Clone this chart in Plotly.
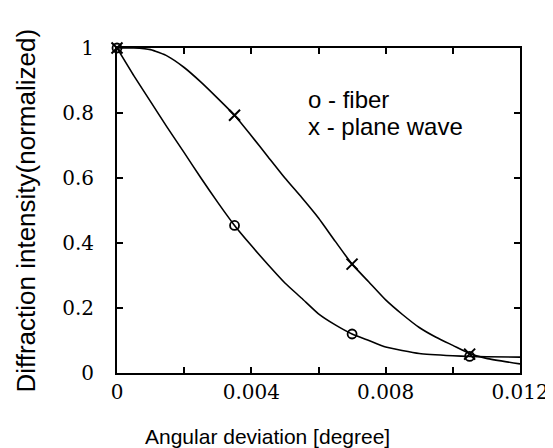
import plotly.graph_objects as go

# Curve samples (angular deviation in degrees, normalized intensity)
fiber_curve_x = [0, 0.0005, 0.001, 0.0015, 0.002, 0.0025, 0.003, 0.0035, 0.004, 0.0045,
                 0.005, 0.0055, 0.006, 0.0065, 0.007, 0.0075, 0.008, 0.009, 0.010, 0.0105,
                 0.011, 0.012]
fiber_curve_y = [1.0, 0.915, 0.835, 0.755, 0.678, 0.60, 0.525, 0.454, 0.392, 0.333,
                 0.277, 0.23, 0.182, 0.148, 0.12, 0.10, 0.08, 0.06, 0.053, 0.051,
                 0.05, 0.049]

plane_curve_x = [0, 0.0005, 0.001, 0.0015, 0.002, 0.0025, 0.003, 0.0035, 0.004, 0.0045,
                 0.005, 0.0055, 0.006, 0.0065, 0.007, 0.0075, 0.008, 0.0085, 0.009, 0.0095,
                 0.010, 0.0105, 0.011, 0.012]
plane_curve_y = [1.0, 1.0, 0.995, 0.975, 0.94, 0.895, 0.845, 0.793, 0.73, 0.665,
                 0.60, 0.54, 0.477, 0.405, 0.335, 0.28, 0.225, 0.18, 0.14, 0.11,
                 0.085, 0.06, 0.045, 0.028]

# Marker samples
fiber_mark_x = [0, 0.0035, 0.007, 0.0105]
fiber_mark_y = [1.0, 0.454, 0.12, 0.051]
plane_mark_x = [0, 0.0035, 0.007, 0.0105]
plane_mark_y = [1.0, 0.793, 0.335, 0.058]

x_ticks = [0, 0.004, 0.008, 0.012]
x_tick_labels = ["0", "0.004", "0.008", "0.012"]
y_ticks = [0, 0.2, 0.4, 0.6, 0.8, 1]
y_tick_labels = ["0", "0.2", "0.4", "0.6", "0.8", "1"]

fig = go.Figure()
line_style = dict(color="black", width=1.6)
fig.add_trace(go.Scatter(x=fiber_curve_x, y=fiber_curve_y, mode="lines",
                         line=dict(**line_style, shape="spline", smoothing=0.5),
                         showlegend=False, cliponaxis=False))
fig.add_trace(go.Scatter(x=plane_curve_x, y=plane_curve_y, mode="lines",
                         line=dict(**line_style, shape="spline", smoothing=0.5),
                         showlegend=False, cliponaxis=False))
fig.add_trace(go.Scatter(x=fiber_mark_x, y=fiber_mark_y, mode="markers",
                         marker=dict(symbol="circle-open", size=9, color="black",
                                     line=dict(width=1.8, color="black")),
                         showlegend=False, cliponaxis=False))
fig.add_trace(go.Scatter(x=plane_mark_x, y=plane_mark_y, mode="markers",
                         marker=dict(symbol="x-thin-open", size=11, color="black",
                                     line=dict(width=2, color="black")),
                         showlegend=False, cliponaxis=False))

tick_font = dict(family="DejaVu Serif, Liberation Serif, serif", size=20, color="black")
axis_common = dict(showline=True, linecolor="black", linewidth=2, mirror="allticks",
                   ticks="inside", ticklen=6, tickwidth=1.5, tickcolor="black",
                   showgrid=False, zeroline=False, tickfont=tick_font)

fig.update_xaxes(range=[0, 0.012], tickvals=x_ticks, ticktext=x_tick_labels,
                 minor=dict(dtick=0.002, ticks="inside", ticklen=6, tickwidth=1.5,
                            tickcolor="black", showgrid=False),
                 ticklabelstandoff=0, **axis_common)
fig.update_yaxes(range=[0, 1], tickvals=y_ticks, ticktext=y_tick_labels,
                 ticklabelstandoff=17, **axis_common)

sans = "Liberation Sans, Arial, sans-serif"
fig.update_layout(
    width=553, height=448,
    margin=dict(l=109, r=32, t=40, b=83),
    paper_bgcolor="white", plot_bgcolor="white",
    annotations=[
        dict(text="Angular deviation [degree]", xref="paper", yref="paper",
             x=0.374, y=-0.194, xanchor="center", yanchor="middle", showarrow=False,
             font=dict(family=sans, size=21, color="black")),
        dict(text="Diffraction intensity(normalized)", xref="paper", yref="paper",
             x=-0.228, y=0.5, xanchor="center", yanchor="middle", showarrow=False,
             textangle=-90, font=dict(family=sans, size=26, color="black")),
        dict(text="o - fiber", xref="paper", yref="paper",
             x=0.468, y=0.843, xanchor="left", yanchor="middle", showarrow=False,
             font=dict(family=sans, size=24, color="black")),
        dict(text="x - plane wave", xref="paper", yref="paper",
             x=0.468, y=0.757, xanchor="left", yanchor="middle", showarrow=False,
             font=dict(family=sans, size=24, color="black")),
    ],
)

fig.write_html("out.html")
